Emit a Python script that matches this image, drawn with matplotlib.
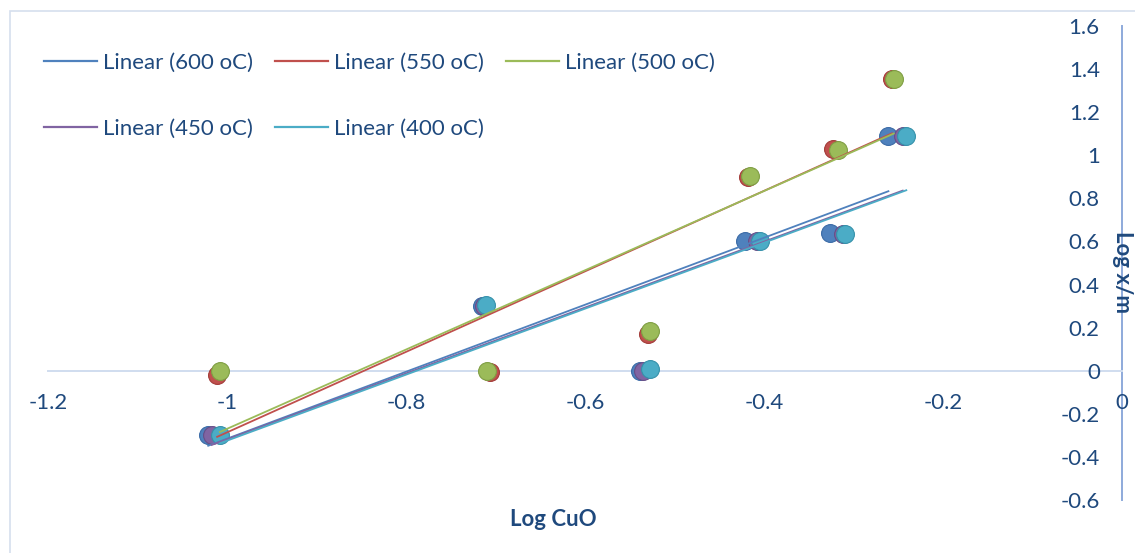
import numpy as np
import matplotlib
matplotlib.use("Agg")
import matplotlib.pyplot as plt
from matplotlib.lines import Line2D
from matplotlib.patches import Rectangle

plt.rcParams['font.family'] = ['Lato', 'DejaVu Sans']

# Log CuO (x) and Log x/m (y) for each temperature series
series_names = ["600 oC", "550 oC", "500 oC", "450 oC", "400 oC"]
x600 = [-1.021, -0.715, -0.539, -0.421, -0.326, -0.261]
y600 = [-0.30, 0.30, 0.00, 0.60, 0.64, 1.09]
x550 = [-1.011, -0.706, -0.530, -0.418, -0.323, -0.257]
y550 = [-0.02, -0.005, 0.17, 0.90, 1.03, 1.355]
x500 = [-1.008, -0.710, -0.527, -0.416, -0.317, -0.255]
y500 = [0.00, 0.00, 0.186, 0.905, 1.026, 1.355]
x450 = [-1.017, -0.713, -0.535, -0.408, -0.312, -0.245]
y450 = [-0.30, 0.30, 0.00, 0.60, 0.635, 1.09]
x400 = [-1.008, -0.711, -0.527, -0.404, -0.309, -0.241]
y400 = [-0.30, 0.305, 0.01, 0.60, 0.635, 1.09]

x_ticks = [-1.2, -1.0, -0.8, -0.6, -0.4, -0.2, 0.0]
x_tick_labels = ["-1.2", "-1", "-0.8", "-0.6", "-0.4", "-0.2", "0"]
y_ticks = [-0.6, -0.4, -0.2, 0.0, 0.2, 0.4, 0.6, 0.8, 1.0, 1.2, 1.4, 1.6]
y_tick_labels = ["-0.6", "-0.4", "-0.2", "0", "0.2", "0.4", "0.6", "0.8", "1", "1.2", "1.4", "1.6"]

colors = ["#4F81BD", "#C0504D", "#9BBB59", "#8064A2", "#4BACC6"]
edge_colors = ["#3A6AA6", "#A23B38", "#7F9E43", "#664F88", "#3591AA"]
text_color = "#1F497D"
fs = 16

W, H = 1135, 553
fig = plt.figure(figsize=(W / 100, H / 100), dpi=100)

# chart area border
fig.patches.append(Rectangle((10 / W, -0.1), 1.2, (H - 11) / H + 0.1,
                             transform=fig.transFigure, fill=False,
                             edgecolor="#D5DFEE", lw=1.2))

ax = fig.add_axes([48 / W, (H - 500) / H, (1122 - 48) / W, (500 - 26) / H])
ax.set_xlim(-1.2, 0.0)
ax.set_ylim(-0.6, 1.6)
ax.patch.set_alpha(0)

xs = [x600, x550, x500, x450, x400]
ys = [y600, y550, y500, y450, y400]

for i, (x, y) in enumerate(zip(xs, ys)):
    ax.scatter(x, y, s=165, color=colors[i], edgecolor=edge_colors[i],
               linewidth=0.8, zorder=3 + i * 0.01, clip_on=False)

handles = []
for i, (x, y) in enumerate(zip(xs, ys)):
    x = np.asarray(x)
    k, b = np.polyfit(x, np.asarray(y), 1)
    xl = np.array([x.min(), x.max()])
    ax.plot(xl, k * xl + b, color=colors[i], lw=1.3, zorder=5 + i * 0.01)
    handles.append(Line2D([], [], color=colors[i], lw=1.6))

# axes crossing at the origin
for s in ["top", "right"]:
    ax.spines[s].set_visible(False)
ax.spines["left"].set_position(("data", 0))
ax.spines["bottom"].set_position(("data", 0))
ax.spines["left"].set_color("#8EAADB")
ax.spines["left"].set_linewidth(1.4)
ax.spines["bottom"].set_color("#D0DDEF")
ax.spines["bottom"].set_linewidth(1.4)
ax.spines["left"].set_zorder(1)
ax.spines["bottom"].set_zorder(1)

ax.set_xticks(x_ticks)
ax.set_xticklabels(x_tick_labels)
ax.set_yticks(y_ticks)
ax.set_yticklabels(y_tick_labels)
ax.tick_params(axis="x", length=0, pad=16, labelsize=fs, labelcolor=text_color)
ax.tick_params(axis="y", length=0, pad=16, labelsize=fs, labelcolor=text_color)

fig.text(553 / W, 1 - 519 / H, "Log CuO", ha="center", va="center",
         fontsize=fs, fontweight="bold", color=text_color)
fig.text(1122 / W, 1 - 272 / H, "Log x/m", ha="center", va="center",
         rotation=-90, fontsize=fs, fontweight="bold", color=text_color)

order = [0, 3, 1, 4, 2]
labels = [f"Linear ({n})" for n in series_names]
fig.legend([handles[i] for i in order], [labels[i] for i in order],
           loc="upper left", bbox_to_anchor=(44 / W, 1 - 53 / H), ncol=3,
           frameon=False, fontsize=fs, labelcolor=text_color,
           handlelength=2.4, handletextpad=0.25, columnspacing=1.0,
           labelspacing=2.05, borderpad=0, borderaxespad=0)

fig.savefig("out.png", dpi=100)
